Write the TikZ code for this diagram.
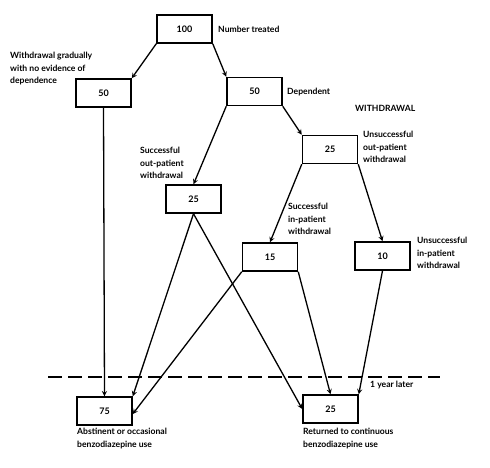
\documentclass[tikz,border=0pt]{standalone}
\usepackage{fontspec}
\setmainfont{Lato}
\usepackage{tikz}
\usetikzlibrary{arrows,positioning}

\tikzset{
    box/.style={draw,line width=1.5pt,minimum width=55pt,minimum height=28pt,inner sep=0pt,font=\bfseries\fontsize{9}{11}\selectfont},
    lbl/.style={inner sep=0pt,align=left,font=\bfseries\fontsize{8.6}{12.5}\selectfont},
    flow/.style={-stealth,line width=1.3pt}
}

\begin{document}
\begin{tikzpicture}[x=1pt,y=-1pt]
\useasboundingbox (0,0) rectangle (490,468);
% boxes
\node[box] (n100) at (184.5,29) {100};
\node[box] (wg50) at (103.5,93) {50};
\node[box] (dep50) at (254.5,91.5) {50};
\node[box] (uo25) at (330,149.5) {25};
\node[box] (so25) at (193.5,199) {25};
\node[box] (si15) at (270,257) {15};
\node[box] (ui10) at (382.5,256) {10};
\node[box] (ab75) at (104.5,411) {75};
\node[box] (rc25) at (330.5,409) {25};
% labels
\node[lbl,anchor=west] (treated) at (218,29) {Number treated};
\node[lbl,anchor=north west] (gradual) at (10,52) {Withdrawal gradually\\with no evidence of\\dependence};
\node[lbl,anchor=west] (depend) at (287,92) {Dependent};
\node[lbl,anchor=west] (withdr) at (355,108) {WITHDRAWAL};
\node[lbl,anchor=north west] (uoutlbl) at (363,131) {Unsuccessful\\out-patient\\withdrawal};
\node[lbl,anchor=north west] (soutlbl) at (140,147) {Successful\\out-patient\\withdrawal};
\node[lbl,anchor=north west] (sinlbl) at (288,203) {Successful\\in-patient\\withdrawal};
\node[lbl,anchor=north west] (uinlbl) at (417,237) {Unsuccessful\\in-patient\\withdrawal};
\node[lbl,anchor=west] (later) at (370,385) {1 year later};
\node[lbl,anchor=north west] (ablbl) at (77,428) {Abstinent or occasional\\benzodiazepine use};
\node[lbl,anchor=north west] (rclbl) at (303,428) {Returned to continuous\\benzodiazepine use};
% one year line
\coordinate (yl) at (48,377);
\coordinate (yr) at (440,377);
\draw[line width=1.4pt,dash pattern=on 14pt off 6pt] (yl) -- (yr);
% flows
\path[flow] (n100.south west) edge (wg50.north east);
\path[flow] (n100.south east) edge (dep50.north west);
\path[flow] (wg50.south) edge (ab75.north);
\path[flow] (dep50.south west) edge (so25.north);
\path[flow] (dep50.south east) edge (uo25.north west);
\path[flow] (uo25.south west) edge (si15.north);
\path[flow] (uo25.south east) edge (ui10.north);
\path[flow] (so25.south) edge (ab75.north east);
\path[flow] (so25.south) edge (rc25.west);
\path[flow] (si15.south west) edge ([yshift=-3pt]ab75.east);
\path[flow] (si15.south east) edge (rc25.north);
\path[flow] (ui10.south) edge (rc25.north east);
\end{tikzpicture}
\end{document}
